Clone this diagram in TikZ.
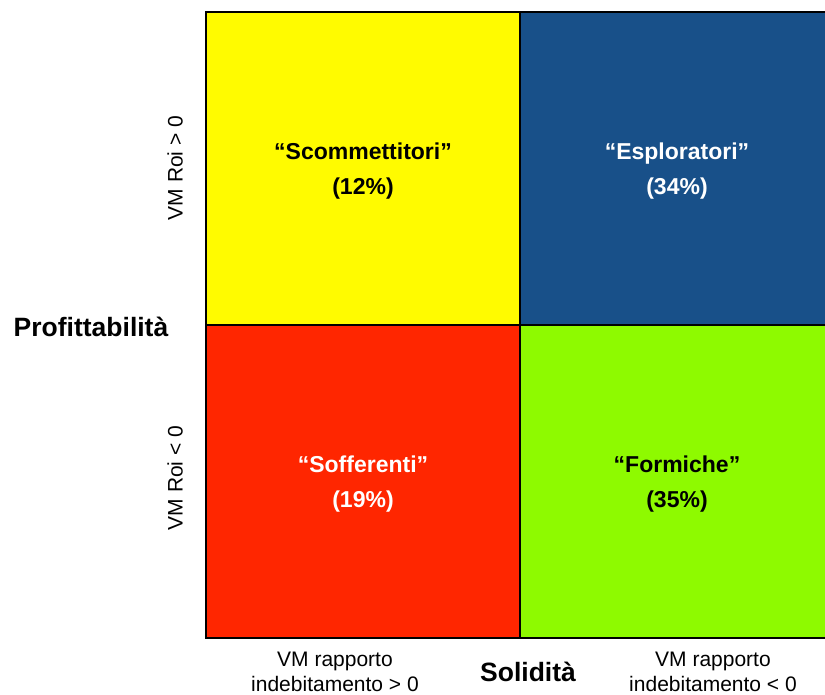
\documentclass[tikz,border=0pt]{standalone}
\usepackage{fontspec}
\setmainfont{Liberation Sans}
\usetikzlibrary{positioning}
\definecolor{QuadYellow}{RGB}{255,251,0}
\definecolor{QuadBlue}{RGB}{24,80,137}
\definecolor{QuadRed}{RGB}{255,38,0}
\definecolor{QuadGreen}{RGB}{142,250,0}

\begin{document}
\begin{tikzpicture}[x=1pt,y=-1pt,
    quad/.style={font=\fontsize{23}{35}\selectfont\bfseries,align=center},
    axislabel/.style={font=\fontsize{26.5}{30}\selectfont\bfseries},
    ticklabel/.style={font=\fontsize{21}{25}\selectfont,align=center}]
  \useasboundingbox (0,0) rectangle (825,695);
  \clip (0,0) rectangle (825,695);
  % quadrants
  \fill[QuadYellow] (206,12) rectangle (520,325);
  \fill[QuadBlue] (520,12) rectangle (834,325);
  \fill[QuadRed] (206,325) rectangle (520,638);
  \fill[QuadGreen] (520,325) rectangle (834,638);
  \draw[line width=2pt] (206,12) rectangle (834,638)
    (520,12)--(520,638) (206,325)--(834,325);
  % quadrant labels
  \node[quad] (scommettitori) at (363,171) {“Scommettitori”\\(12\%)};
  \node[quad,white] (esploratori) at (677,171) {“Esploratori”\\(34\%)};
  \node[quad,white] (sofferenti) at (363,484) {“Sofferenti”\\(19\%)};
  \node[quad] (formiche) at (677,484) {“Formiche”\\(35\%)};
  % axes
  \node[axislabel] (profitt) at (91,327) {Profittabilità};
  \node[ticklabel,rotate=90] (roipos) at (175,168) {VM Roi > 0};
  \node[ticklabel,rotate=90] (roineg) at (175,478) {VM Roi < 0};
  \node[axislabel] (solidita) at (528,672) {Solidità};
  \node[ticklabel] (indpos) at (335,672) {VM rapporto\\indebitamento > 0};
  \node[ticklabel] (indneg) at (713,672) {VM rapporto\\indebitamento < 0};
\end{tikzpicture}
\end{document}
